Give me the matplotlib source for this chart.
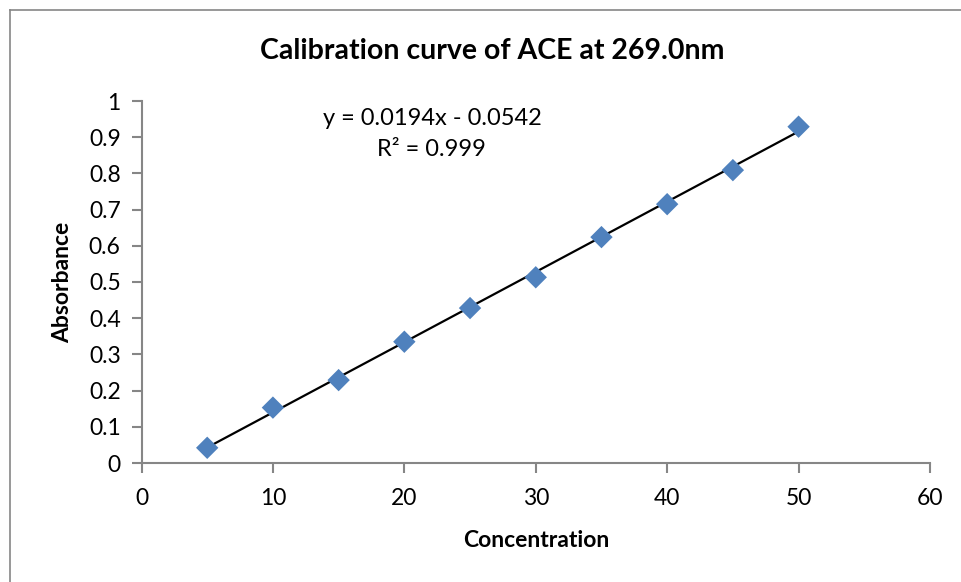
import numpy as np
import matplotlib
matplotlib.use("Agg")
import matplotlib.pyplot as plt
from matplotlib.lines import Line2D

concentration = [5, 10, 15, 20, 25, 30, 35, 40, 45, 50]
absorbance = [0.042, 0.153, 0.229, 0.335, 0.428, 0.513, 0.624, 0.715, 0.809, 0.929]
x_ticks = [0, 10, 20, 30, 40, 50, 60]
y_ticks = [0, 0.1, 0.2, 0.3, 0.4, 0.5, 0.6, 0.7, 0.8, 0.9, 1]
y_tick_labels = ["0", "0.1", "0.2", "0.3", "0.4", "0.5", "0.6", "0.7", "0.8", "0.9", "1"]
slope, intercept = 0.0194, -0.0542
eq_text = "y = 0.0194x - 0.0542"
r2_text = "R² = 0.999"

plt.rcParams['font.family'] = ['Lato', 'DejaVu Sans']

fig = plt.figure(figsize=(9.61, 5.82), dpi=100)
W, H = 961, 582
ax = fig.add_axes([141.5 / W, 1 - 463 / H, (930 - 141.5) / W, (463 - 101) / H])

gray = "#868686"
xs = np.array([min(concentration), max(concentration)])
ax.plot(xs, slope * xs + intercept, color="black", lw=1.6, zorder=2)
ax.scatter(concentration, absorbance, marker="D", s=130, color="#4F81BD",
           edgecolors="none", zorder=3)

ax.set_xlim(0, 60)
ax.set_ylim(0, 1)
ax.set_xticks(x_ticks)
ax.set_yticks(y_ticks)
ax.set_yticklabels(y_tick_labels)
for s in ["top", "right"]:
    ax.spines[s].set_visible(False)
for s in ["left", "bottom"]:
    ax.spines[s].set_color(gray)
    ax.spines[s].set_linewidth(1.5)
ax.tick_params(axis="both", direction="out", length=7, width=1.5, color=gray,
               labelsize=16.5, labelcolor="black")
ax.tick_params(axis="x", pad=11)
ax.tick_params(axis="y", pad=8)

ax.set_xlabel("Concentration", fontsize=16.5, fontweight="bold", labelpad=15)
ax.set_ylabel("Absorbance", fontsize=16.5, fontweight="bold", labelpad=11)

fig.text(492 / W, 1 - 51 / H, "Calibration curve of ACE at 269.0nm",
         ha="center", va="center", fontsize=20.5, fontweight="bold")

ax.text(22.1, 0.953, eq_text, ha="center", va="center", fontsize=17)
ax.text(22.1, 0.866, r2_text, ha="center", va="center", fontsize=17)

# chart border (left and top visible)
fig.add_artist(Line2D([9.5 / W, 9.5 / W], [0, 1 - 9.5 / H], transform=fig.transFigure,
                      color=gray, lw=1.2))
fig.add_artist(Line2D([9.5 / W, 1], [1 - 9.5 / H, 1 - 9.5 / H], transform=fig.transFigure,
                      color=gray, lw=1.2))

fig.savefig("out.png", dpi=100)
